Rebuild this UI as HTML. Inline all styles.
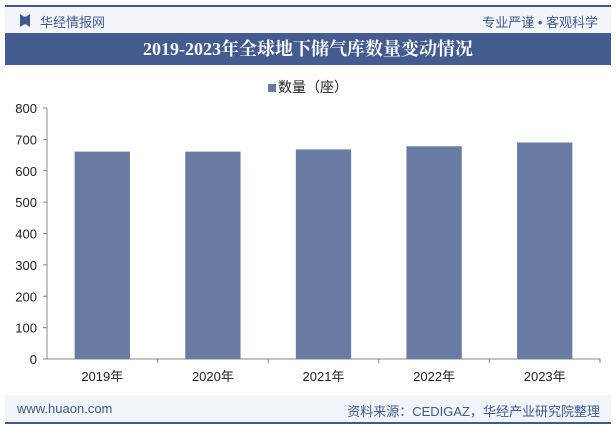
<!DOCTYPE html>
<html><head><meta charset="utf-8"><style>
body{margin:0;width:616px;height:427px;background:#fff;font-family:"Liberation Sans","Noto Sans CJK SC",sans-serif;position:relative;overflow:hidden}
.abs{position:absolute}
</style></head><body>
<div class="abs" style="left:5px;top:5px;width:606px;height:2px;background:#3f5a8e"></div>
<div class="abs" style="left:5px;top:7px;width:606px;height:26px;background:#f3f5f9"></div>
<div class="abs" style="left:20px;top:14px;width:10px;height:13px;background:#3f5a8e;clip-path:polygon(0 0,40% 20%,60% 20%,100% 0,100% 100%,60% 80%,40% 80%,0 100%)"></div>
<div class="abs" style="left:40px;top:12px;font-size:13px;color:#3f5a8e">华经情报网</div>
<div class="abs" style="right:18px;top:12px;font-size:13px;color:#3f5a8e">专业严谨 • 客观科学</div>
<div class="abs" style="left:5px;top:33px;width:606px;height:32px;background:#435b8f;color:#fff;font-family:'Liberation Serif','Noto Serif CJK SC',serif;font-weight:bold;font-size:18px;line-height:32px;text-align:center">2019-2023年全球地下储气库数量变动情况</div>
<div class="abs" style="left:268px;top:77px;font-size:14px;color:#222"><span style="display:inline-block;width:8px;height:8px;background:#687ca3;margin-right:2px"></span>数量（座）</div>
<svg class="abs" style="left:0;top:0" width="616" height="427">
<g id="ax" font-size="13" fill="#222" font-family="Liberation Sans,Noto Sans CJK SC,sans-serif"></g>
<g id="bars"></g>
</svg>
<div class="abs" style="left:5px;top:395px;width:606px;height:27px;background:#f1f4f9"></div>
<div class="abs" style="left:17px;top:401px;font-size:13px;color:#3f5a8e">www.huaon.com</div>
<div class="abs" style="right:16px;top:401px;font-size:13px;color:#3f5a8e">资料来源：CEDIGAZ，华经产业研究院整理</div>
<div class="abs" style="left:5px;top:422px;width:606px;height:2px;background:#3f5a8e"></div>
<script>
const categories=["2019年","2020年","2021年","2022年","2023年"];
const values=[661,661,668,678,690];
const yTicks=[0,100,200,300,400,500,600,700,800];
const NS="http://www.w3.org/2000/svg";
const x0=47,x1=600,y0=359,yTop=108,yMax=800;
const y=v=>y0-(v/yMax)*(y0-yTop);
const cw=(x1-x0)/categories.length;
const ax=document.getElementById('ax'),bars=document.getElementById('bars');
function mk(t,a,p){const e=document.createElementNS(NS,t);for(const k in a)e.setAttribute(k,a[k]);p.appendChild(e);return e;}
let l=mk('line',{x1:x0,y1:yTop,x2:x0,y2:y0,stroke:'#888'},ax);


l=mk('line',{x1:x0,y1:y0,x2:x1,y2:y0,stroke:'#888'},ax);


yTicks.forEach(v=>{
 mk('line',{x1:x0-4,y1:y(v),x2:x0,y2:y(v),stroke:'#888'},ax);
 const t=mk('text',{x:x0-10,y:y(v)+5,'text-anchor':'end'},ax);t.textContent=v;
 
 
});
categories.forEach((c,i)=>{
 mk('line',{x1:x0+cw*(i+1),y1:y0,x2:x0+cw*(i+1),y2:y0+4,stroke:'#888'},ax);
 const t=mk('text',{x:x0+cw*(i+0.5),y:y0+22,'text-anchor':'middle'},ax);t.textContent=c;
 
 
 const bw=cw*0.5;
 const r=mk('rect',{x:x0+cw*(i+0.5)-bw/2,y:y(values[i]),width:bw,height:y0-y(values[i]),fill:'#687ca3'},bars);
 
 
});
</script>
</body></html>
